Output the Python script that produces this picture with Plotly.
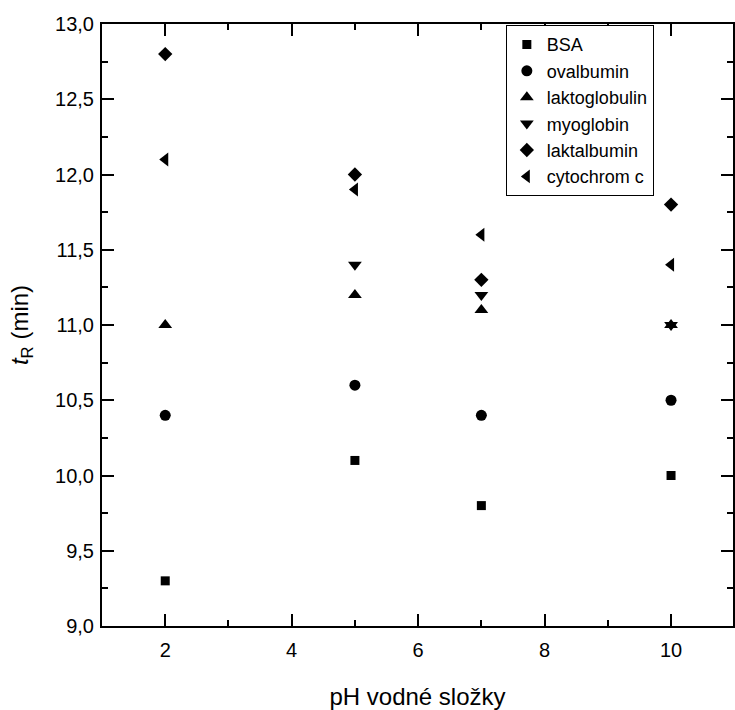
import plotly.graph_objects as go

# Retention time of proteins vs. pH of the aqueous component
ph = [2, 5, 7, 10]

bsa = [9.3, 10.1, 9.8, 10.0]
ovalbumin = [10.4, 10.6, 10.4, 10.5]
laktoglobulin = [11.0, 11.2, 11.1, 11.0]
myoglobin = [None, 11.4, 11.2, 11.0]
laktalbumin = [12.8, 12.0, 11.3, 11.8]
cytochrom_c = [12.1, 11.9, 11.6, 11.4]

series = [
    ("BSA", bsa, "square", 9),
    ("ovalbumin", ovalbumin, "circle", 11),
    ("laktoglobulin", laktoglobulin, "triangle-up", 12),
    ("myoglobin", myoglobin, "triangle-down", 12),
    ("laktalbumin", laktalbumin, "diamond", 11),
    ("cytochrom c", cytochrom_c, "triangle-left", 12),
]

fig = go.Figure()
for name, values, symbol, size in series:
    fig.add_trace(go.Scatter(
        x=ph, y=values, name=name, mode="markers",
        marker=dict(symbol=symbol, size=size, color="black",
                    line=dict(width=0)),
    ))

font_family = "Liberation Sans, Arial, sans-serif"

axis_common = dict(
    showgrid=False, zeroline=False,
    showline=True, linecolor="black", linewidth=2,
    mirror="ticks", ticks="inside", ticklen=12, tickwidth=2,
    tickcolor="black",
    tickfont=dict(family=font_family, size=20, color="black"),
)

fig.update_xaxes(
    range=[1, 10.98], dtick=2, tick0=0, ticklabelstandoff=5,
    minor=dict(ticks="inside", ticklen=6, tickwidth=2, dtick=1,
               tick0=1, tickcolor="black"),
    title=dict(text="pH vodné složky", standoff=31,
               font=dict(family=font_family, size=24, color="black")),
    **axis_common,
)
fig.update_yaxes(
    range=[9, 13], dtick=0.5, tick0=9, tickformat=".1f",
    ticklabelstandoff=2,
    minor=dict(ticks="inside", ticklen=6, tickwidth=2, dtick=0.25,
               tick0=9, tickcolor="black"),
    title=dict(text="<i>t</i><sub>R</sub> (min)", standoff=20,
               font=dict(family=font_family, size=24, color="black")),
    **axis_common,
)

fig.update_layout(
    width=735, height=710,
    margin=dict(l=102, r=0, t=24, b=84),
    plot_bgcolor="white", paper_bgcolor="white",
    separators=", ",
    legend=dict(
        x=0.64, y=0.998, xanchor="left", yanchor="top",
        bgcolor="white", bordercolor="black", borderwidth=1,
        font=dict(family=font_family, size=18, color="black"),
    ),
    font=dict(family=font_family, color="black"),
)

fig.write_html("out.html")
